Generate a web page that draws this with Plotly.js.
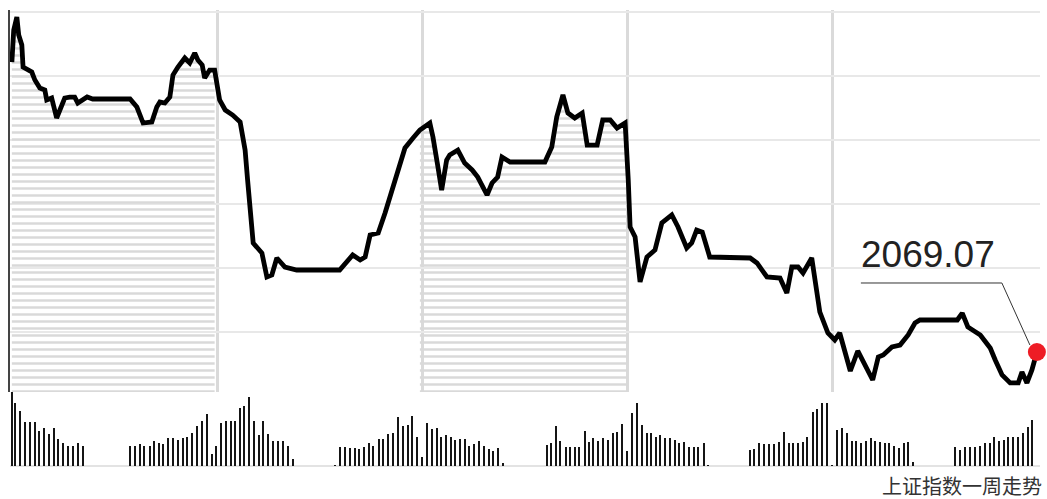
<!DOCTYPE html>
<html>
<head>
<meta charset="utf-8">
<script src="https://cdn.plot.ly/plotly-3.0.1.min.js"></script>
<style>html,body{margin:0;padding:0;background:#fff;}#chart{width:1047px;height:499px;}</style>
</head>
<body>
<div id="chart"></div>
<script>
// minutes from Monday 9:30 (each trading day spans 330 min incl. lunch break)
const priceMin = [0,3,8,11,16,18,32,37,45,53,56,64,72,77,85,93,101,106,114,121,130,190,201,211,225,233,238,246,254,259,267,278,286,294,299,306,310,318,326,
334,343,355,367,375,379,383,388,402,410,418,426,439,458,527,539,548,560,568,576,589,600,611,621,632,645,656,
672,677,685,691,699,704,717,728,740,749,764,772,781,788,801,857,868,876,886,894,905,917,925,941,950,962,973,986,
991,994,1002,1010,1021,1034,1045,1061,1071,1085,1093,1101,1110,1122,1187,1198,1214,1235,1246,1254,1264,1272,1286,1294,1299,1312,1323,
1331,1348,1360,1368,1384,1393,1401,1415,1428,1441,1452,1460,1520,1528,1537,1557,1573,1581,1592,1605,1618,1624,1632,1640,1648];
const priceVal = [2114.38,2119.38,2121.41,2118.60,2117.04,2113.60,2112.82,2111.57,2110.32,2110.01,2108.45,2108.76,2105.63,2106.88,2108.76,2108.91,2108.91,2107.98,2108.45,2108.91,2108.60,2108.60,2107.35,2104.85,2105.01,2107.35,2108.13,2107.98,2108.91,2112.35,2113.60,2115.01,2114.23,2115.79,2114.70,2113.91,2111.88,2113.13,2113.13,
2108.45,2106.88,2106.10,2105.01,2100.63,2095.95,2090.79,2086.10,2084.54,2080.79,2081.10,2083.76,2082.35,2081.88,2081.88,2083.13,2084.23,2083.45,2083.91,2087.35,2087.66,2090.79,2094.38,2097.04,2100.95,2102.51,2103.76,
2104.85,2102.66,2097.98,2094.38,2099.07,2099.85,2100.63,2098.60,2097.51,2096.41,2093.60,2095.48,2096.41,2099.54,2098.76,2098.76,2101.10,2105.79,2109.23,2106.41,2105.63,2106.41,2101.41,2101.41,2105.32,2105.32,2104.07,2104.85,
2095.95,2088.60,2087.04,2080.01,2083.91,2085.01,2089.23,2090.48,2088.60,2085.32,2086.10,2088.13,2087.82,2083.91,2083.76,2082.98,2080.79,2080.63,2078.29,2082.35,2082.35,2081.41,2083.76,2078.76,2075.32,2072.04,2070.95,
2072.04,2066.10,2069.23,2067.82,2064.69,2068.29,2068.60,2069.85,2070.16,2071.73,2073.60,2074.07,2074.07,2075.16,2072.98,2071.73,2069.70,2067.82,2065.48,2064.23,2064.23,2065.94,2064.23,2066.26,2069.07];

const volMin = [0,5,13,21,29,37,43,51,59,68,74,82,90,98,106,114,
190,198,206,212,222,228,236,243,251,259,267,275,281,289,297,306,314,322,328,
336,344,352,359,367,373,381,389,397,404,412,420,428,436,444,452,
519,527,535,544,552,558,566,574,580,590,597,605,613,621,629,637,643,651,659,
667,675,683,690,698,706,712,720,728,735,743,751,759,767,773,781,790,
860,867,875,881,891,897,905,912,921,928,934,942,950,958,966,973,981,989,
997,1005,1013,1021,1028,1036,1042,1050,1058,1066,1073,1081,1089,1097,1103,1113,1119,
1187,1193,1201,1209,1217,1225,1233,1241,1249,1256,1264,1272,1278,1288,1294,1302,1311,1319,
1327,1335,1343,1351,1357,1365,1373,1381,1388,1396,1404,1410,1418,1426,1434,1441,1449,
1516,1524,1532,1540,1548,1557,1565,1573,1579,1587,1595,1602,1610,1618,1626,1634,1640];
const volVal = [74,63,55,44,44,44,35,38,32,38,27,23,20,20,23,20,
20,20,22,20,20,25,23,22,28,28,26,28,29,33,40,45,52,12,20,
43,45,45,45,58,60,69,45,31,45,32,25,25,25,20,7,
1,19,19,18,18,17,19,23,20,27,27,32,33,49,40,41,50,29,9,
43,37,38,29,31,29,26,27,27,20,22,25,20,17,15,18,3,
21,23,40,25,19,19,19,19,35,24,28,25,28,26,33,34,42,15,
53,63,41,33,33,29,31,28,28,26,23,24,19,19,19,23,1,
16,17,23,22,22,22,24,34,23,23,23,24,29,54,57,63,63,1,
36,38,33,25,25,23,25,28,25,24,23,23,20,18,23,24,4,
19,16,19,19,19,20,23,23,29,25,26,29,29,29,33,39,46];

const dayLength = 330;
const dayBreaks = [330, 660, 990, 1320];
const hatchDays = [0, 2];
const lastLabel = '2069.07';
const caption = '上证指数一周走势';

const lastM = priceMin[priceMin.length - 1];
const lastV = priceVal[priceVal.length - 1];

const traces = [];
hatchDays.forEach(function(d){
  const xs = [], ys = [];
  for (let i = 0; i < priceMin.length; i++) {
    if (priceMin[i] >= d*dayLength - 6 && priceMin[i] <= (d+1)*dayLength + 2) {
      xs.push(priceMin[i]); ys.push(priceVal[i]);
    }
  }
  traces.push({
    x: xs, y: ys, type: 'scatter', mode: 'none', fill: 'tozeroy',
    fillcolor: 'rgba(255,255,255,0)',
    fillpattern: {shape: '-', fgcolor: '#d9d9d9', bgcolor: 'rgba(255,255,255,0)', size: 7, solidity: 0.35},
    xaxis: 'x', yaxis: 'y', hoverinfo: 'skip', showlegend: false
  });
});
traces.push({
  x: priceMin, y: priceVal, type: 'scatter', mode: 'lines',
  line: {color: '#000', width: 4.8},
  xaxis: 'x', yaxis: 'y', showlegend: false
});
traces.push({
  x: [lastM], y: [lastV], type: 'scatter', mode: 'markers',
  marker: {color: '#ee1c25', size: 18}, cliponaxis: false,
  xaxis: 'x', yaxis: 'y', showlegend: false
});
traces.push({
  x: volMin, y: volVal, type: 'bar', width: 3,
  marker: {color: '#151515', line: {width: 0}},
  xaxis: 'x2', yaxis: 'y2', showlegend: false
});

const layout = {
  width: 1047, height: 499,
  margin: {l: 10, r: 7, t: 10, b: 33, pad: 0},
  paper_bgcolor: '#fff', plot_bgcolor: '#fff',
  showlegend: false,
  bargap: 0,
  xaxis: {
    range: [-3, 1653], domain: [0, 1], anchor: 'y',
    tickmode: 'array', tickvals: dayBreaks, showticklabels: false, ticks: '',
    showgrid: true, gridcolor: '#dadada', gridwidth: 3, zeroline: false, showline: false
  },
  yaxis: {
    range: [2062.82, 2122.51], domain: [0.1623, 1], anchor: 'x',
    tick0: 2072.2, dtick: 10, showticklabels: false, ticks: '',
    showgrid: true, gridcolor: '#e8e8e8', gridwidth: 2, zeroline: false,
    showline: true, linecolor: '#444', linewidth: 2
  },
  xaxis2: {
    range: [-3, 1653], domain: [0, 1], anchor: 'y2', matches: 'x',
    showticklabels: false, ticks: '', showgrid: false, zeroline: false, showline: false
  },
  yaxis2: {
    range: [0, 74], domain: [0, 0.1623], anchor: 'x2',
    tick0: 0, dtick: 74, showticklabels: false, ticks: '',
    showgrid: true, gridcolor: '#e8e8e8', gridwidth: 2,
    zeroline: true, zerolinecolor: '#e3e3e3', zerolinewidth: 2, showline: false
  },
  shapes: [{
    type: 'path', xref: 'x', yref: 'y', xsizemode: 'pixel', ysizemode: 'pixel',
    xanchor: lastM, yanchor: lastV,
    path: 'M-7,7L-35,69L-176,69',
    line: {color: '#333', width: 1}
  }],
  annotations: [{
    xref: 'x', yref: 'y', x: lastM, y: lastV, text: lastLabel, showarrow: false,
    xanchor: 'left', yanchor: 'bottom', xshift: -178, yshift: 75,
    font: {family: 'Liberation Sans, Arial, sans-serif', size: 37, color: '#222'}
  }, {
    xref: 'paper', yref: 'paper', x: 1, y: 0, xanchor: 'right', yanchor: 'middle',
    xshift: 3, yshift: -19, borderpad: 0, text: caption, showarrow: false,
    font: {family: 'Noto Sans CJK SC, sans-serif', size: 20, color: '#333'}
  }]
};

Plotly.newPlot('chart', traces, layout, {displayModeBar: false, staticPlot: true});
</script>
</body>
</html>
